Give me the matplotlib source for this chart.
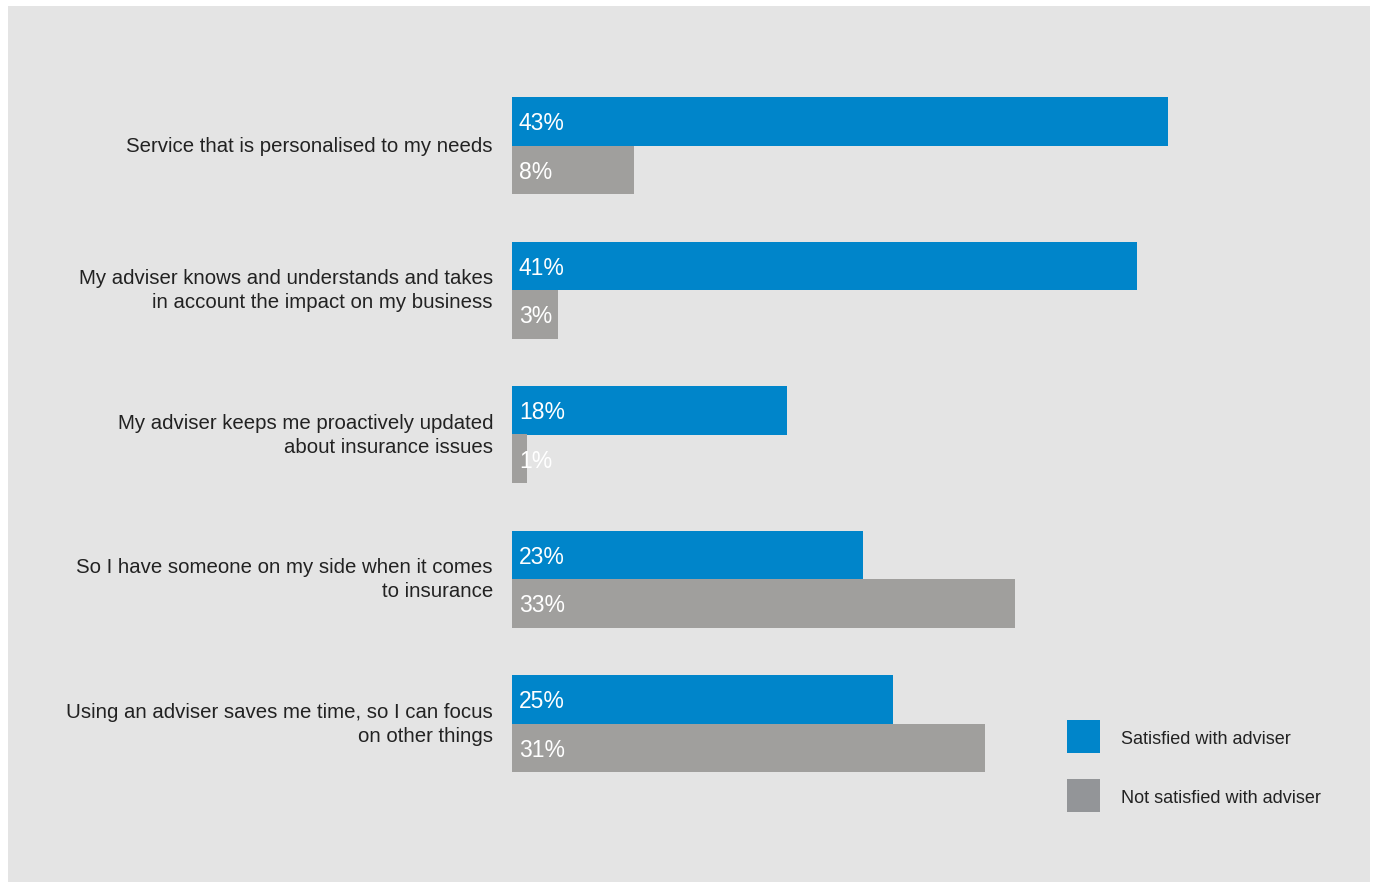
import matplotlib
matplotlib.use("Agg")
import matplotlib.pyplot as plt
from matplotlib.patches import Rectangle

categories = [
    "Service that is personalised to my needs",
    "My adviser knows and understands and takes\nin account the impact on my business",
    "My adviser keeps me proactively updated\nabout insurance issues",
    "So I have someone on my side when it comes\nto insurance",
    "Using an adviser saves me time, so I can focus\non other things",
]
satisfied = [43, 41, 18, 23, 25]
not_satisfied = [8, 3, 1, 33, 31]
series_names = ["Satisfied with adviser", "Not satisfied with adviser"]

BLUE = "#0085ca"
GREY = "#a09f9d"
LEGEND_GREY = "#939598"
PANEL = "#e4e4e4"
TEXT = "#222222"

plt.rcParams["font.family"] = ["Liberation Sans", "DejaVu Sans"]

W, H = 1377, 883
fig = plt.figure(figsize=(W / 100, H / 100), dpi=100)
fig.patch.set_facecolor("white")

# grey panel behind the chart
fig.patches.append(Rectangle((8 / W, 1 / H), (1370 - 8) / W, (882 - 6) / H,
                             transform=fig.transFigure, facecolor=PANEL,
                             edgecolor="none", zorder=-10))

# axes placed so that 0% sits at x=512px and each group is 144.5px tall
px_per_pct = 15.25
xmax = 50
ax_left = 512 / W
ax_w = px_per_pct * xmax / W
top_px = 145.5 - 72.25
bot_px = 723.5 + 72.25
ax = fig.add_axes([ax_left, (H - bot_px) / H, ax_w, (bot_px - top_px) / H])
ax.set_zorder(5)
ax.set_facecolor("none")
ax.set_xlim(0, xmax)
ax.set_ylim(len(categories) - 0.5, -0.5)

bh = 48.5 / 144.5
ys = list(range(len(categories)))
ax.barh([y - bh / 2 for y in ys], satisfied, height=bh, color=BLUE, zorder=2)
ax.barh([y + bh / 2 for y in ys], not_satisfied, height=bh, color=GREY, zorder=2)

dy = 2.5 / 144.5
for y, s, n in zip(ys, satisfied, not_satisfied):
    ax.text(0.45, y - bh / 2 + dy, f"{s}%", color="white", fontsize=16.5,
            va="center", ha="left", zorder=3)
    ax.text(0.45, y + bh / 2 + dy, f"{n}%", color="white", fontsize=16.5,
            va="center", ha="left", zorder=3)

# category labels, right aligned against the bars
for y, c in zip(ys, categories):
    ax.text(-19 / px_per_pct, y + 0.005, c, ha="right", va="center",
            multialignment="right", fontsize=14.7, color=TEXT,
            linespacing=1.35, clip_on=False)

for s in ax.spines.values():
    s.set_visible(False)
ax.set_xticks([])
ax.set_yticks([])

# legend
for i, (name, col) in enumerate(zip(series_names, [BLUE, LEGEND_GREY])):
    y_top = 720 + i * 59
    fig.patches.append(Rectangle((1067 / W, (H - y_top - 33) / H), 33 / W, 33 / H,
                                 transform=fig.transFigure, facecolor=col,
                                 edgecolor="none", zorder=1))
    fig.text(1121 / W, (H - y_top - 19.5) / H, name, ha="left", va="center",
             fontsize=13, color=TEXT)

fig.savefig("out.png", dpi=100, facecolor=fig.get_facecolor())
